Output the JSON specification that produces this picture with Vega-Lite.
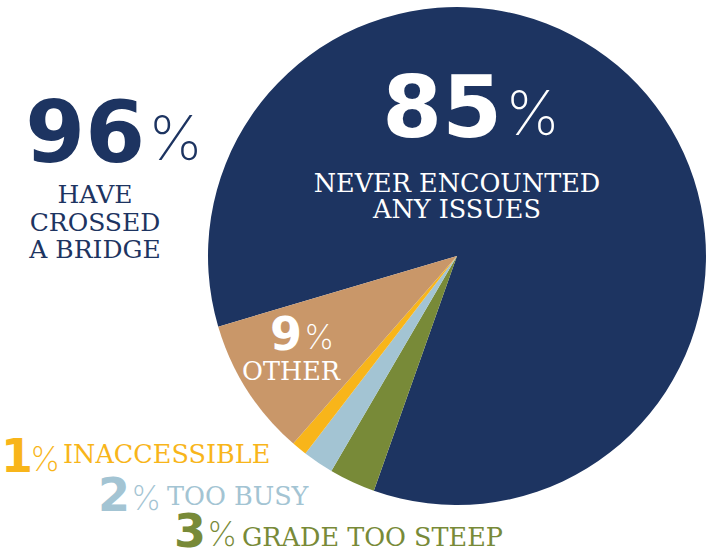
{
  "$schema": "https://vega.github.io/schema/vega-lite/v6.json",
  "autosize": {"type": "none"},
  "width": 498,
  "height": 498,
  "padding": {"left": 208, "top": 7, "right": 8, "bottom": 53},
  "background": "#ffffff",
  "config": {"view": {"stroke": null}},
  "datasets": {
    "slices": [
      {"category": "Never encounted any issues", "label": "NEVER ENCOUNTED\nANY ISSUES", "value": 85, "idx": 1},
      {"category": "Grade too steep", "label": "GRADE TOO STEEP", "value": 3, "idx": 2},
      {"category": "Too busy", "label": "TOO BUSY", "value": 2, "idx": 3},
      {"category": "Inaccessible", "label": "INACCESSIBLE", "value": 1, "idx": 4},
      {"category": "Other", "label": "OTHER", "value": 9, "idx": 5}
    ],
    "headline": [
      {"label": "HAVE\nCROSSED\nA BRIDGE", "value": 96}
    ]
  },
  "layer": [
    {
      "data": {"name": "slices"},
      "mark": {"type": "arc", "outerRadius": 249},
      "encoding": {
        "theta": {"field": "value", "type": "quantitative", "stack": true, "scale": {"range": [4.4245, 10.7077]}},
        "color": {"field": "category", "type": "nominal", "legend": null,
          "scale": {"domain": ["Never encounted any issues", "Grade too steep", "Too busy", "Inaccessible", "Other"],
                    "range": ["#1d3461", "#788a38", "#a3c4d3", "#f8b51a", "#c99769"]}},
        "order": {"field": "idx", "type": "quantitative"}
      }
    },
    {
      "data": {"name": "headline"},
      "mark": {"type": "text", "font": "DejaVu Sans", "fontWeight": "bold", "fontSize": 86, "align": "right", "baseline": "alphabetic", "color": "#1d3461"},
      "encoding": {"text": {"field": "value", "type": "quantitative"}, "x": {"value": -63}, "y": {"value": 155}}
    },
    {
      "data": {"name": "headline"},
      "mark": {"type": "text", "font": "Inter", "fontWeight": 200, "fontSize": 62, "align": "left", "baseline": "alphabetic", "color": "#1d3461"},
      "encoding": {"text": {"value": "%"}, "x": {"value": -60}, "y": {"value": 153}}
    },
    {
      "data": {"name": "headline"},
      "mark": {"type": "text", "font": "DejaVu Serif", "fontSize": 25, "align": "center", "baseline": "alphabetic", "lineBreak": "\n", "lineHeight": 27.5, "color": "#1d3461"},
      "encoding": {"text": {"field": "label", "type": "nominal"}, "x": {"value": -113}, "y": {"value": 196}}
    },
    {
      "data": {"name": "slices"},
      "transform": [{"filter": "datum.idx == 1"}],
      "mark": {"type": "text", "font": "DejaVu Sans", "fontWeight": "bold", "fontSize": 86, "align": "right", "baseline": "alphabetic", "color": "#ffffff"},
      "encoding": {"text": {"field": "value", "type": "quantitative"}, "x": {"value": 294}, "y": {"value": 130}}
    },
    {
      "data": {"name": "slices"},
      "transform": [{"filter": "datum.idx == 1"}],
      "mark": {"type": "text", "font": "Inter", "fontWeight": 200, "fontSize": 62, "align": "left", "baseline": "alphabetic", "color": "#ffffff"},
      "encoding": {"text": {"value": "%"}, "x": {"value": 297}, "y": {"value": 128}}
    },
    {
      "data": {"name": "slices"},
      "transform": [{"filter": "datum.idx == 1"}],
      "mark": {"type": "text", "font": "DejaVu Serif", "fontSize": 25.5, "align": "center", "baseline": "alphabetic", "lineBreak": "\n", "lineHeight": 26, "color": "#ffffff"},
      "encoding": {"text": {"field": "label", "type": "nominal"}, "x": {"value": 249}, "y": {"value": 185}}
    },
    {
      "data": {"name": "slices"},
      "transform": [{"filter": "datum.idx == 5"}],
      "mark": {"type": "text", "font": "DejaVu Sans", "fontWeight": "bold", "fontSize": 46, "align": "right", "baseline": "alphabetic", "color": "#ffffff"},
      "encoding": {"text": {"field": "value", "type": "quantitative"}, "x": {"value": 94}, "y": {"value": 343}}
    },
    {
      "data": {"name": "slices"},
      "transform": [{"filter": "datum.idx == 5"}],
      "mark": {"type": "text", "font": "Inter", "fontWeight": 200, "fontSize": 34, "align": "left", "baseline": "alphabetic", "color": "#ffffff"},
      "encoding": {"text": {"value": "%"}, "x": {"value": 96}, "y": {"value": 342}}
    },
    {
      "data": {"name": "slices"},
      "transform": [{"filter": "datum.idx == 5"}],
      "mark": {"type": "text", "font": "DejaVu Serif", "fontSize": 25.5, "align": "center", "baseline": "alphabetic", "color": "#ffffff"},
      "encoding": {"text": {"field": "label", "type": "nominal"}, "x": {"value": 83}, "y": {"value": 373}}
    },
    {
      "data": {"name": "slices"},
      "transform": [{"filter": "datum.idx == 4"}],
      "mark": {"type": "text", "font": "DejaVu Sans", "fontWeight": "bold", "fontSize": 46, "align": "left", "baseline": "alphabetic", "color": "#f8b51a"},
      "encoding": {"text": {"field": "value", "type": "quantitative"}, "x": {"value": -207}, "y": {"value": 465}}
    },
    {
      "data": {"name": "slices"},
      "transform": [{"filter": "datum.idx == 4"}],
      "mark": {"type": "text", "font": "Inter", "fontWeight": 200, "fontSize": 34, "align": "left", "baseline": "alphabetic", "color": "#f8b51a"},
      "encoding": {"text": {"value": "%"}, "x": {"value": -178}, "y": {"value": 464}}
    },
    {
      "data": {"name": "slices"},
      "transform": [{"filter": "datum.idx == 4"}],
      "mark": {"type": "text", "font": "DejaVu Serif", "fontSize": 25.5, "align": "left", "baseline": "alphabetic", "color": "#f8b51a"},
      "encoding": {"text": {"field": "label", "type": "nominal"}, "x": {"value": -145}, "y": {"value": 456}}
    },
    {
      "data": {"name": "slices"},
      "transform": [{"filter": "datum.idx == 3"}],
      "mark": {"type": "text", "font": "DejaVu Sans", "fontWeight": "bold", "fontSize": 46, "align": "right", "baseline": "alphabetic", "color": "#a3c4d3"},
      "encoding": {"text": {"field": "value", "type": "quantitative"}, "x": {"value": -78}, "y": {"value": 504}}
    },
    {
      "data": {"name": "slices"},
      "transform": [{"filter": "datum.idx == 3"}],
      "mark": {"type": "text", "font": "Inter", "fontWeight": 200, "fontSize": 34, "align": "left", "baseline": "alphabetic", "color": "#a3c4d3"},
      "encoding": {"text": {"value": "%"}, "x": {"value": -77}, "y": {"value": 503}}
    },
    {
      "data": {"name": "slices"},
      "transform": [{"filter": "datum.idx == 3"}],
      "mark": {"type": "text", "font": "DejaVu Serif", "fontSize": 25.5, "align": "left", "baseline": "alphabetic", "color": "#a3c4d3"},
      "encoding": {"text": {"field": "label", "type": "nominal"}, "x": {"value": -41}, "y": {"value": 498}}
    },
    {
      "data": {"name": "slices"},
      "transform": [{"filter": "datum.idx == 2"}],
      "mark": {"type": "text", "font": "DejaVu Sans", "fontWeight": "bold", "fontSize": 46, "align": "right", "baseline": "alphabetic", "color": "#788a38"},
      "encoding": {"text": {"field": "value", "type": "quantitative"}, "x": {"value": -2}, "y": {"value": 540}}
    },
    {
      "data": {"name": "slices"},
      "transform": [{"filter": "datum.idx == 2"}],
      "mark": {"type": "text", "font": "Inter", "fontWeight": 200, "fontSize": 34, "align": "left", "baseline": "alphabetic", "color": "#788a38"},
      "encoding": {"text": {"value": "%"}, "x": {"value": -1}, "y": {"value": 539}}
    },
    {
      "data": {"name": "slices"},
      "transform": [{"filter": "datum.idx == 2"}],
      "mark": {"type": "text", "font": "DejaVu Serif", "fontSize": 25.5, "align": "left", "baseline": "alphabetic", "color": "#788a38"},
      "encoding": {"text": {"field": "label", "type": "nominal"}, "x": {"value": 34}, "y": {"value": 539}}
    }
  ]
}
